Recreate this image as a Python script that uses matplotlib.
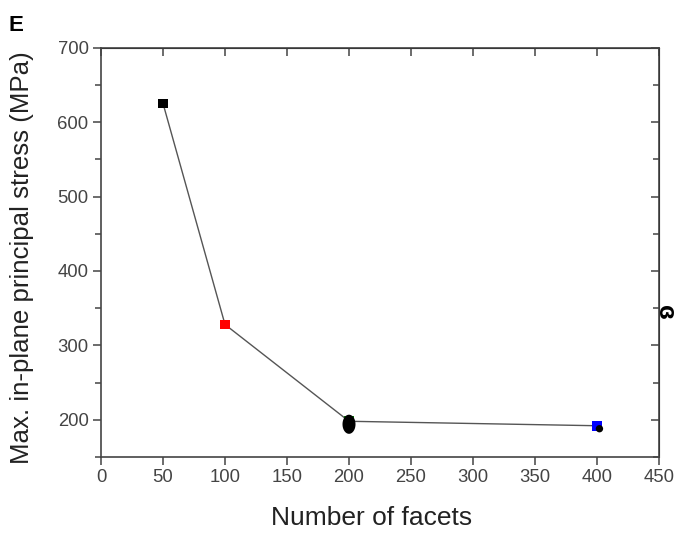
import matplotlib
matplotlib.use("Agg")
import numpy as np
import matplotlib.pyplot as plt
from matplotlib.ticker import MultipleLocator
from matplotlib.path import Path

plt.rcParams['font.family'] = ['Liberation Sans', 'DejaVu Sans']

facets = [50, 100, 200, 400]
stress = [625, 328, 198, 192]
colors = ['black', 'red', 'green', 'blue']

fig = plt.figure(figsize=(6.79, 5.34), dpi=100)
ax = fig.add_axes([0.1488, 0.1442, 0.8217, 0.7665])

ax.plot(facets, stress, color='#555555', lw=1.0, zorder=1)
ax.scatter(facets, stress, marker='s', s=50, c=colors, edgecolors='none', zorder=2)

# hand-drawn black marks present in the reference
t = np.linspace(0, 2 * np.pi, 40)
ell = Path(np.column_stack([0.68 * np.cos(t), np.sin(t)]))
ax.scatter([facets[2]], [stress[2] - 4], marker=ell, s=190, c='black', zorder=3,
           edgecolors='none')
ax.scatter([facets[3] + 2], [stress[3] - 4], marker='o', s=28, c='black', zorder=3,
           edgecolors='none')

ax.set_xlim(0, 450)
ax.set_ylim(150, 700)
ax.xaxis.set_major_locator(MultipleLocator(50))
ax.yaxis.set_major_locator(MultipleLocator(100))
ax.yaxis.set_minor_locator(MultipleLocator(50))

for s in ax.spines.values():
    s.set_color('#444444')
    s.set_linewidth(1.2)

ax.tick_params(axis='both', which='major', direction='out', length=6, width=1.1,
               color='#444444', labelsize=13.3, labelcolor='#444444', pad=3)
ax.tick_params(axis='y', which='minor', direction='out', length=4, width=1.1,
               color='#444444')

ax.set_xlabel('Number of facets', fontsize=19, color='#222222')
ax.xaxis.set_label_coords(0.484, -0.12)
ax.set_ylabel('Max. in-plane principal stress (MPa)', fontsize=18.6, color='#222222')
ax.yaxis.set_label_coords(-0.12, 0.487)

# top/right inward ticks
secx = ax.secondary_xaxis('top')
secx.xaxis.set_major_locator(MultipleLocator(50))
secx.tick_params(direction='in', length=6, width=1.1, color='#444444', labeltop=False)
secy = ax.secondary_yaxis('right')
secy.yaxis.set_major_locator(MultipleLocator(100))
secy.yaxis.set_minor_locator(MultipleLocator(50))
secy.tick_params(which='both', direction='in', length=6, width=1.1, color='#444444',
                 labelright=False)
secy.tick_params(which='minor', length=4)

fig.text(0.012, 0.942, 'E', fontsize=16, fontweight='bold', color='black')
fig.text(0.962, 0.41, 'ɞ', fontsize=19, fontweight='bold', color='black', rotation=-90)

fig.savefig('out.png', dpi=100)
